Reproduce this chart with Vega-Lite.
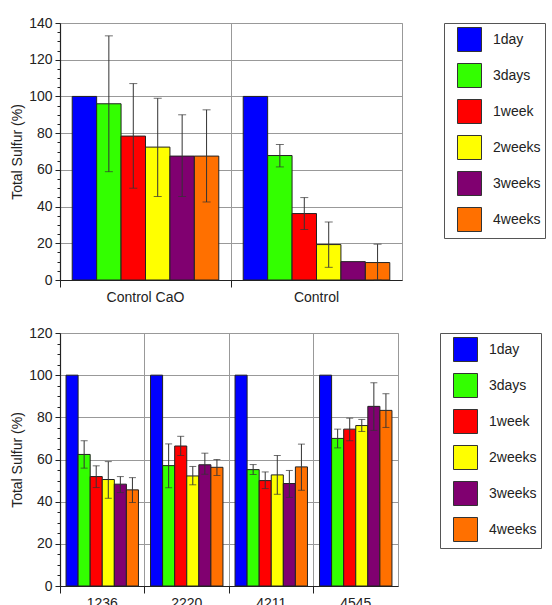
{
  "$schema": "https://vega.github.io/schema/vega-lite/v6.json",
  "padding": {"left": 10, "top": 15, "right": 0, "bottom": 0},
  "spacing": 20,
  "config": {
    "font": "Liberation Sans",
    "view": {"stroke": "#999", "strokeWidth": 1},
    "axis": {
      "labelFont": "Liberation Sans", "labelFontSize": 14, "labelColor": "#222", "labelOverlap": false,
      "titleFont": "Liberation Sans", "titleFontSize": 14, "titleFontWeight": "normal", "titleColor": "#222",
      "domainColor": "#222", "domainWidth": 1.2, "tickColor": "#222",
      "gridColor": "#999", "gridWidth": 1
    },
    "legend": {
      "title": null, "orient": "right", "offset": 42,
      "symbolType": "square", "symbolSize": 576, "symbolStrokeColor": "#333", "symbolStrokeWidth": 1,
      "fillColor": "white", "strokeColor": "#555", "padding": 4, "rowPadding": 7,
      "labelFont": "Liberation Sans", "labelFontSize": 14, "labelColor": "#222", "labelOffset": 11, "symbolOffset": 9
    }
  },
  "datasets": {
    "top": [
      {"group": "Control CaO", "period": "1day", "value": 100, "lo": null, "hi": null},
      {"group": "Control CaO", "period": "3days", "value": 96, "lo": 59, "hi": 133},
      {"group": "Control CaO", "period": "1week", "value": 78.4, "lo": 50, "hi": 107},
      {"group": "Control CaO", "period": "2weeks", "value": 72.4, "lo": 45.5, "hi": 99},
      {"group": "Control CaO", "period": "3weeks", "value": 67.5, "lo": 45.5, "hi": 90},
      {"group": "Control CaO", "period": "4weeks", "value": 67.5, "lo": 42.5, "hi": 92.7},
      {"group": "Control", "period": "1day", "value": 100, "lo": null, "hi": null},
      {"group": "Control", "period": "3days", "value": 67.8, "lo": 61.6, "hi": 73.8},
      {"group": "Control", "period": "1week", "value": 36.2, "lo": 27.5, "hi": 44.9},
      {"group": "Control", "period": "2weeks", "value": 19.3, "lo": 6.9, "hi": 31.6},
      {"group": "Control", "period": "3weeks", "value": 10, "lo": null, "hi": null},
      {"group": "Control", "period": "4weeks", "value": 9.5, "lo": 0, "hi": 19.5}
    ],
    "bottom": [
      {"group": "1236", "period": "1day", "value": 100, "lo": null, "hi": null},
      {"group": "1236", "period": "3days", "value": 62.4, "lo": 55.9, "hi": 68.9},
      {"group": "1236", "period": "1week", "value": 51.9, "lo": 46.7, "hi": 57},
      {"group": "1236", "period": "2weeks", "value": 50.5, "lo": 41.6, "hi": 59},
      {"group": "1236", "period": "3weeks", "value": 48.3, "lo": 44.3, "hi": 51.9},
      {"group": "1236", "period": "4weeks", "value": 45.6, "lo": 39.6, "hi": 51.4},
      {"group": "2220", "period": "1day", "value": 100, "lo": null, "hi": null},
      {"group": "2220", "period": "3days", "value": 57.1, "lo": 46.6, "hi": 67.4},
      {"group": "2220", "period": "1week", "value": 66.4, "lo": 61.9, "hi": 71},
      {"group": "2220", "period": "2weeks", "value": 52.2, "lo": 48, "hi": 56.7},
      {"group": "2220", "period": "3weeks", "value": 57.5, "lo": 53, "hi": 63},
      {"group": "2220", "period": "4weeks", "value": 56.3, "lo": 52.4, "hi": 60},
      {"group": "4211", "period": "1day", "value": 100, "lo": null, "hi": null},
      {"group": "4211", "period": "3days", "value": 55.2, "lo": 52.9, "hi": 57.6},
      {"group": "4211", "period": "1week", "value": 50, "lo": 46.2, "hi": 54.1},
      {"group": "4211", "period": "2weeks", "value": 52.7, "lo": 43.5, "hi": 61.9},
      {"group": "4211", "period": "3weeks", "value": 48.6, "lo": 42, "hi": 54.8},
      {"group": "4211", "period": "4weeks", "value": 56.5, "lo": 45.4, "hi": 67.3},
      {"group": "4545", "period": "1day", "value": 100, "lo": null, "hi": null},
      {"group": "4545", "period": "3days", "value": 70, "lo": 65.5, "hi": 74.4},
      {"group": "4545", "period": "1week", "value": 74.4, "lo": 68.9, "hi": 79.6},
      {"group": "4545", "period": "2weeks", "value": 76.1, "lo": 73.3, "hi": 79},
      {"group": "4545", "period": "3weeks", "value": 85.2, "lo": 73.8, "hi": 96.4},
      {"group": "4545", "period": "4weeks", "value": 83.3, "lo": 75.2, "hi": 91.2}
    ]
  },
  "resolve": {
    "scale": {"color": "independent", "x": "independent", "xOffset": "independent", "y": "independent"},
    "legend": {"color": "independent"},
    "axis": {"x": "independent", "y": "independent"}
  },
  "vconcat": [
    {
      "width": 342, "height": 257,
      "data": {"name": "top"},
      "encoding": {
        "x": {"field": "group", "type": "nominal", "sort": ["Control CaO", "Control"],
          "scale": {"paddingInner": 0, "paddingOuter": 0},
          "axis": {"title": null, "labelAngle": 0, "bandPosition": 0, "grid": true, "tickSize": 7, "labelPadding": 3}},
        "xOffset": {"field": "period", "type": "nominal",
          "scale": {"domain": ["1day", "3days", "1week", "2weeks", "3weeks", "4weeks"], "paddingOuter": 0.5, "paddingInner": 0}}
      },
      "resolve": {"axis": {"y": "independent"}},
      "layer": [
        {
          "mark": {"type": "bar", "stroke": "#222", "strokeWidth": 1},
          "encoding": {
            "y": {"field": "value", "type": "quantitative",
              "scale": {"domain": [0, 140], "nice": false},
              "axis": {"title": "Total Sulfur (%)", "values": [0, 20, 40, 60, 80, 100, 120, 140], "grid": true, "tickSize": 5, "labelPadding": 3, "titlePadding": 4}},
            "color": {"field": "period", "type": "nominal",
              "scale": {"domain": ["1day", "3days", "1week", "2weeks", "3weeks", "4weeks"],
                "range": ["#0000FF", "#33FF00", "#FF0000", "#FFFF00", "#800070", "#FF7000"]}}
          }
        },
        {
          "transform": [{"filter": "datum.hi != null"}],
          "mark": {"type": "rule", "color": "#333", "strokeWidth": 1},
          "encoding": {
            "y": {"field": "lo", "type": "quantitative",
              "axis": {"orient": "left", "title": null, "labels": false, "domain": false, "grid": false, "tickSize": 3,
                "values": [5, 10, 15, 25, 30, 35, 45, 50, 55, 65, 70, 75, 85, 90, 95, 105, 110, 115, 125, 130, 135]}},
            "y2": {"field": "hi"}
          }
        },
        {
          "transform": [{"filter": "datum.hi != null"}],
          "mark": {"type": "tick", "orient": "horizontal", "size": 8, "thickness": 1, "color": "#333"},
          "encoding": {"y": {"field": "hi", "type": "quantitative", "axis": null}}
        },
        {
          "transform": [{"filter": "datum.hi != null"}],
          "mark": {"type": "tick", "orient": "horizontal", "size": 8, "thickness": 1, "color": "#333"},
          "encoding": {"y": {"field": "lo", "type": "quantitative", "axis": null}}
        }
      ]
    },
    {
      "width": 338, "height": 253,
      "data": {"name": "bottom"},
      "encoding": {
        "x": {"field": "group", "type": "nominal", "sort": ["1236", "2220", "4211", "4545"],
          "scale": {"paddingInner": 0, "paddingOuter": 0},
          "axis": {"title": null, "labelAngle": 0, "bandPosition": 0, "grid": true, "tickSize": 7, "labelPadding": 3}},
        "xOffset": {"field": "period", "type": "nominal",
          "scale": {"domain": ["1day", "3days", "1week", "2weeks", "3weeks", "4weeks"], "paddingOuter": 0.5, "paddingInner": 0}}
      },
      "resolve": {"axis": {"y": "independent"}},
      "layer": [
        {
          "mark": {"type": "bar", "stroke": "#222", "strokeWidth": 1},
          "encoding": {
            "y": {"field": "value", "type": "quantitative",
              "scale": {"domain": [0, 120], "nice": false},
              "axis": {"title": "Total Sulfur (%)", "values": [0, 20, 40, 60, 80, 100, 120], "grid": true, "tickSize": 5, "labelPadding": 3, "titlePadding": 4}},
            "color": {"field": "period", "type": "nominal",
              "scale": {"domain": ["1day", "3days", "1week", "2weeks", "3weeks", "4weeks"],
                "range": ["#0000FF", "#33FF00", "#FF0000", "#FFFF00", "#800070", "#FF7000"]}}
          }
        },
        {
          "transform": [{"filter": "datum.hi != null"}],
          "mark": {"type": "rule", "color": "#333", "strokeWidth": 1},
          "encoding": {
            "y": {"field": "lo", "type": "quantitative",
              "axis": {"orient": "left", "title": null, "labels": false, "domain": false, "grid": false, "tickSize": 3,
                "values": [5, 10, 15, 25, 30, 35, 45, 50, 55, 65, 70, 75, 85, 90, 95, 105, 110, 115]}},
            "y2": {"field": "hi"}
          }
        },
        {
          "transform": [{"filter": "datum.hi != null"}],
          "mark": {"type": "tick", "orient": "horizontal", "size": 7, "thickness": 1, "color": "#333"},
          "encoding": {"y": {"field": "hi", "type": "quantitative", "axis": null}}
        },
        {
          "transform": [{"filter": "datum.hi != null"}],
          "mark": {"type": "tick", "orient": "horizontal", "size": 7, "thickness": 1, "color": "#333"},
          "encoding": {"y": {"field": "lo", "type": "quantitative", "axis": null}}
        }
      ]
    }
  ]
}
